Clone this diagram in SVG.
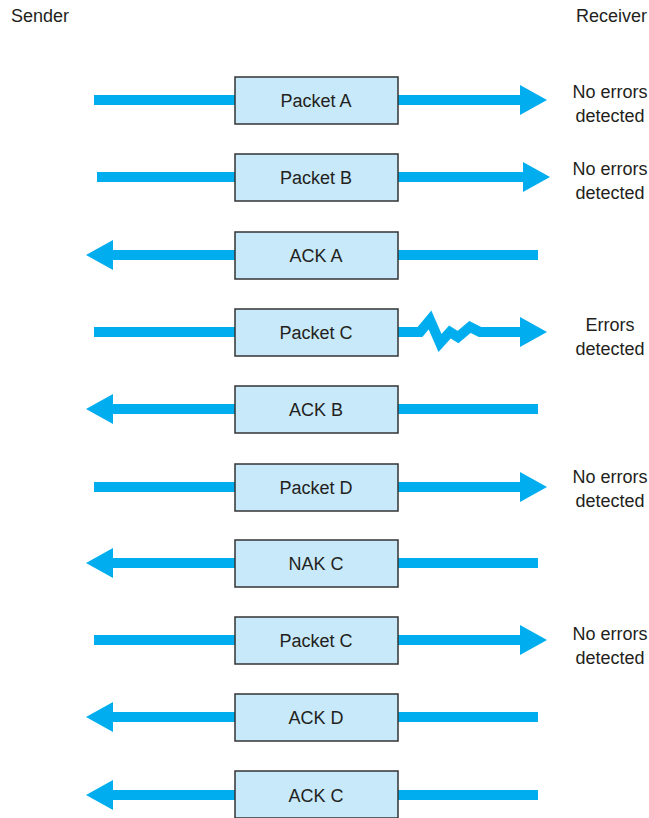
<svg xmlns="http://www.w3.org/2000/svg" width="649" height="818" viewBox="0 0 649 818">
<style>
text{font-family:"Liberation Sans",Arial,sans-serif;font-size:18px;fill:#231f20}
.box{fill:#c7e9f9;stroke:#333;stroke-width:1.5}
.ln{stroke:#00aeef;stroke-width:10;fill:none}
.hd{fill:#00aeef}
.c{text-anchor:middle}
</style>
<rect width="649" height="818" fill="#fff"/>
<text x="11" y="22">Sender</text>
<text x="647" y="22" text-anchor="end">Receiver</text>
<g id="connectors">
<path class="ln" d="M94 100H521"/><polygon class="hd" points="520,85 547,100 520,115"/>
<path class="ln" d="M97 177H524"/><polygon class="hd" points="523,162 550,177 523,192"/>
<path class="ln" d="M112 255H538"/><polygon class="hd" points="113,240 86,255 113,270"/>
<path class="ln" d="M94 332H420L430 320L440 343L450 332L458 337L470 327L480 332H521" stroke-linejoin="miter"/><polygon class="hd" points="520,317 547,332 520,347"/>
<path class="ln" d="M112 409H538"/><polygon class="hd" points="113,394 86,409 113,424"/>
<path class="ln" d="M94 487H521"/><polygon class="hd" points="520,472 547,487 520,502"/>
<path class="ln" d="M112 563H538"/><polygon class="hd" points="113,548 86,563 113,578"/>
<path class="ln" d="M94 640H521"/><polygon class="hd" points="520,625 547,640 520,655"/>
<path class="ln" d="M112 717H538"/><polygon class="hd" points="113,702 86,717 113,732"/>
<path class="ln" d="M112 795H538"/><polygon class="hd" points="113,780 86,795 113,810"/>
</g>
<g id="pA"><rect class="box" x="235" y="77" width="163" height="47"/><text class="c" x="316" y="107">Packet A</text></g>
<g id="pB"><rect class="box" x="235" y="154" width="163" height="47"/><text class="c" x="316" y="184">Packet B</text></g>
<g id="ackA"><rect class="box" x="235" y="232" width="163" height="47"/><text class="c" x="316" y="262">ACK A</text></g>
<g id="pC"><rect class="box" x="235" y="309" width="163" height="47"/><text class="c" x="316" y="339">Packet C</text></g>
<g id="ackB"><rect class="box" x="235" y="386" width="163" height="47"/><text class="c" x="316" y="416">ACK B</text></g>
<g id="pD"><rect class="box" x="235" y="464" width="163" height="47"/><text class="c" x="316" y="494">Packet D</text></g>
<g id="nakC"><rect class="box" x="235" y="540" width="163" height="47"/><text class="c" x="316" y="570">NAK C</text></g>
<g id="pC2"><rect class="box" x="235" y="617" width="163" height="47"/><text class="c" x="316" y="647">Packet C</text></g>
<g id="ackD"><rect class="box" x="235" y="694" width="163" height="47"/><text class="c" x="316" y="724">ACK D</text></g>
<g id="ackC"><rect class="box" x="235" y="771" width="163" height="47"/><text class="c" x="316" y="802">ACK C</text></g>
<g id="r1"><text class="c" x="610" y="98">No errors</text><text class="c" x="610" y="122">detected</text></g>
<g id="r2"><text class="c" x="610" y="175">No errors</text><text class="c" x="610" y="199">detected</text></g>
<g id="r3"><text class="c" x="610" y="331">Errors</text><text class="c" x="610" y="355">detected</text></g>
<g id="r4"><text class="c" x="610" y="483">No errors</text><text class="c" x="610" y="507">detected</text></g>
<g id="r5"><text class="c" x="610" y="640">No errors</text><text class="c" x="610" y="664">detected</text></g>
</svg>
